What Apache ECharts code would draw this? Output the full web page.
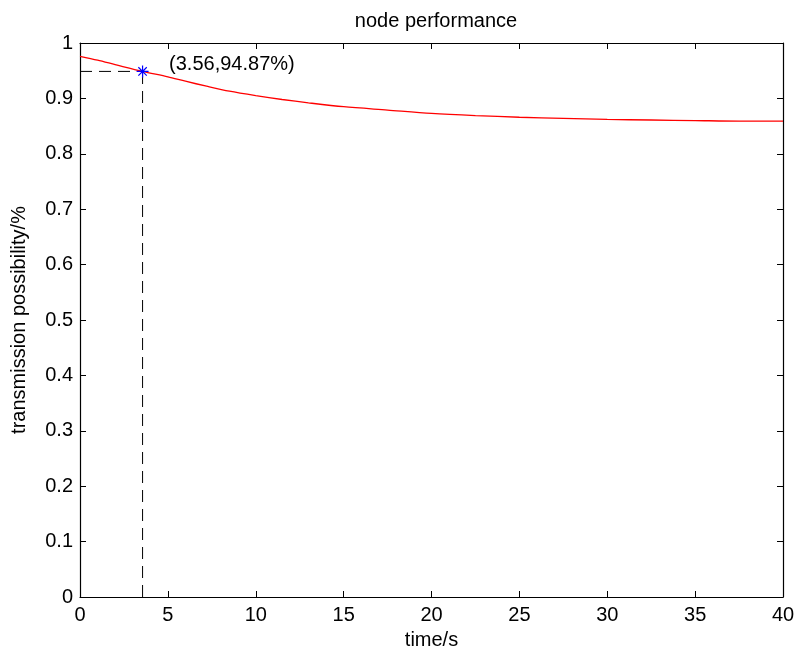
<!DOCTYPE html>
<html><head><meta charset="utf-8">
<script src="https://cdn.jsdelivr.net/npm/echarts@6/dist/echarts.min.js"></script>
<style>html,body{margin:0;padding:0;background:#fff}#c{width:802px;height:657px}</style>
</head><body><div id="c"></div>
<script>
const timeS = [0, 1, 2, 3.56, 5, 6, 7.2, 8.5, 10, 11.5, 13, 15, 17.5, 20, 22.5, 25, 27.5, 30, 32.5, 35, 37.5, 40];
const possibility = [0.976, 0.969, 0.961, 0.9487, 0.939, 0.931, 0.922, 0.913, 0.905, 0.898, 0.892, 0.885, 0.879, 0.873, 0.869, 0.866, 0.864, 0.862, 0.861, 0.860, 0.859, 0.859];
const markPoint = [3.56, 0.9487];
const markLabel = '(3.56,94.87%)';
const xTicks = [0, 5, 10, 15, 20, 25, 30, 35, 40];
const yTicks = [0, 0.1, 0.2, 0.3, 0.4, 0.5, 0.6, 0.7, 0.8, 0.9, 1];

const font = 'Liberation Sans, Arial, sans-serif';
const chart = echarts.init(document.getElementById('c'), null, {renderer: 'canvas'});
const axisCommon = {
  axisLine: {show: true, onZero: false, lineStyle: {color: '#000', width: 1.2}},
  axisTick: {show: true, inside: true, length: 6, lineStyle: {color: '#000'}},
  splitLine: {show: false}
};
chart.setOption({
  animation: false,
  backgroundColor: '#fff',
  title: {text: 'node performance', left: 431, top: 6, textAlign: 'center',
    textStyle: {fontFamily: font, fontSize: 20, fontWeight: 'normal', color: '#000'}},
  grid: {left: 80, right: 19, top: 43, bottom: 60},
  xAxis: [
    Object.assign({type: 'value', min: xTicks[0], max: xTicks[xTicks.length-1], interval: 5, position: 'bottom',
      name: 'time/s', nameLocation: 'middle', nameGap: 33,
      nameTextStyle: {fontFamily: font, fontSize: 20, color: '#000'},
      axisLabel: {fontFamily: font, fontSize: 20, color: '#000', margin: 8}}, axisCommon),
    Object.assign({type: 'value', min: xTicks[0], max: xTicks[xTicks.length-1], interval: 5, position: 'top',
      axisLabel: {show: false}}, axisCommon)
  ],
  yAxis: [
    Object.assign({type: 'value', min: yTicks[0], max: yTicks[yTicks.length-1], interval: 0.1, position: 'left',
      name: 'transmission possibility/%', nameLocation: 'middle', nameGap: 51,
      nameTextStyle: {fontFamily: font, fontSize: 20, color: '#000'},
      axisLabel: {fontFamily: font, fontSize: 20, color: '#000', margin: 7,
        formatter: v => String(Math.round(v * 10) / 10)}}, axisCommon),
    Object.assign({type: 'value', min: yTicks[0], max: yTicks[yTicks.length-1], interval: 0.1, position: 'right',
      axisLabel: {show: false}}, axisCommon)
  ],
  series: [
    {type: 'line', data: timeS.map((t, i) => [t, possibility[i]]), showSymbol: false, smooth: 0.3,
      lineStyle: {color: '#ff0000', width: 1.3}, z: 3},
    {type: 'line', data: [[0, markPoint[1]], [markPoint[0], markPoint[1]]], showSymbol: false,
      lineStyle: {color: '#000', width: 1, type: [12, 7]}, z: 2},
    {type: 'line', data: [[markPoint[0], 0], [markPoint[0], markPoint[1]]], showSymbol: false,
      lineStyle: {color: '#000', width: 1, type: [12, 7]}, z: 2},
    {type: 'scatter', data: [markPoint],
      symbol: 'path://M0,-10L0,10M-10,0L10,0M-7,-7L7,7M-7,7L7,-7', symbolSize: 12,
      itemStyle: {color: 'none', borderColor: '#0000ff', borderWidth: 1.2, opacity: 1},
      label: {show: true, position: 'right', distance: 18, offset: [0, -7], formatter: markLabel,
        fontFamily: font, fontSize: 20, color: '#000', opacity: 1}, z: 4}
  ]
});
</script></body></html>
